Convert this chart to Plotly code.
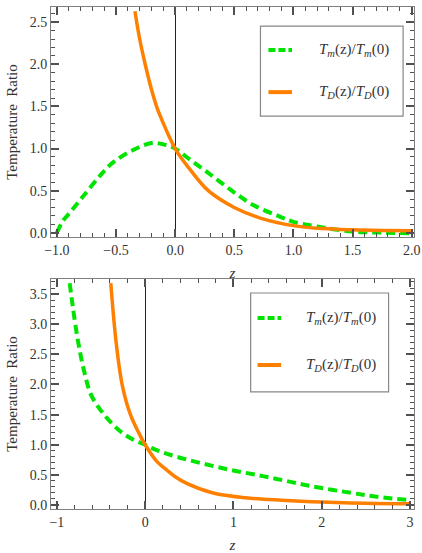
import plotly.graph_objects as go
from plotly.subplots import make_subplots

# ---- data ----
# top panel
tm_top_z = [-1.0, -0.95, -0.89, -0.78, -0.64, -0.53, -0.36, -0.2, -0.1, 0.0, 0.11, 0.28, 0.47, 0.66, 0.89, 1.0, 1.2, 1.5, 1.75, 2.0]
tm_top_v = [0.0, 0.14, 0.24, 0.43, 0.67, 0.83, 0.98, 1.065, 1.05, 1.0, 0.885, 0.71, 0.51, 0.33, 0.19, 0.13, 0.075, 0.015, 0.002, -0.005]
td_top_z = [-0.34, -0.3, -0.25, -0.2, -0.15, -0.1, -0.05, 0.0, 0.05, 0.11, 0.28, 0.5, 0.72, 1.0, 1.25, 1.5, 1.75, 2.0]
td_top_v = [2.63, 2.3, 1.98, 1.7, 1.47, 1.3, 1.14, 1.0, 0.89, 0.78, 0.5, 0.3, 0.175, 0.085, 0.05, 0.035, 0.028, 0.025]
# bottom panel
tm_bot_z = [-0.855, -0.82, -0.76, -0.69, -0.61, -0.46, -0.28, -0.13, 0.0, 0.13, 0.36, 0.88, 1.33, 1.66, 1.89, 2.34, 2.63, 3.0]
tm_bot_v = [3.68, 3.29, 2.71, 2.21, 1.82, 1.49, 1.22, 1.08, 1.0, 0.91, 0.80, 0.61, 0.48, 0.38, 0.31, 0.2, 0.135, 0.08]
td_bot_z = [-0.39, -0.33, -0.26, -0.165, -0.08, 0.0, 0.134, 0.246, 0.34, 0.47, 0.77, 1.14, 1.55, 2.0, 2.5, 3.0]
td_bot_v = [3.68, 2.71, 1.99, 1.49, 1.22, 1.0, 0.72, 0.58, 0.47, 0.36, 0.2, 0.12, 0.08, 0.05, 0.03, 0.02]

# tick values
top_x_major = [-1.0, -0.5, 0.0, 0.5, 1.0, 1.5, 2.0]
top_y_major = [0.0, 0.5, 1.0, 1.5, 2.0, 2.5]
bot_x_major = [-1, 0, 1, 2, 3]
bot_y_major = [0.0, 0.5, 1.0, 1.5, 2.0, 2.5, 3.0, 3.5]

label_m = "<i>T</i><sub><i>m</i></sub>(z)/<i>T</i><sub><i>m</i></sub>(0)"
label_d = "<i>T</i><sub><i>D</i></sub>(z)/<i>T</i><sub><i>D</i></sub>(0)"

GREEN = "#00E400"
ORANGE = "#FF8000"
FRAME = "#808080"
TICKC = "#505050"
SERIF = "Liberation Serif"

fig = make_subplots(rows=2, cols=1, vertical_spacing=0.0834)

line_m = dict(color=GREEN, width=4, dash="9px,5px")
line_d = dict(color=ORANGE, width=3.5)

fig.add_trace(go.Scatter(x=tm_top_z, y=tm_top_v, mode="lines", line=line_m, line_shape="spline",
                         name="Tm(z)/Tm(0)", showlegend=False), row=1, col=1)
fig.add_trace(go.Scatter(x=td_top_z, y=td_top_v, mode="lines", line=line_d, line_shape="spline",
                         name="TD(z)/TD(0)", showlegend=False), row=1, col=1)
fig.add_trace(go.Scatter(x=tm_bot_z, y=tm_bot_v, mode="lines", line=line_m, line_shape="spline",
                         name="Tm(z)/Tm(0)", showlegend=False), row=2, col=1)
fig.add_trace(go.Scatter(x=td_bot_z, y=td_bot_v, mode="lines", line=line_d, line_shape="spline",
                         name="TD(z)/TD(0)", showlegend=False), row=2, col=1)

tickfont = dict(family=SERIF, size=14, color="#333")
ztitle = dict(text="<i>z</i>", font=dict(family=SERIF, size=15, color="#333"), standoff=10)
ytitle = dict(text="Temperature  Ratio", font=dict(family=SERIF, size=15, color="#333"), standoff=8)

base = dict(showline=True, linecolor=FRAME, linewidth=1, mirror="allticks",
            ticks="inside", ticklen=8, tickwidth=1.5, tickcolor=TICKC,
            showgrid=False, tickfont=tickfont)
minor_x1 = dict(ticks="inside", ticklen=4, tickwidth=1, tickcolor=TICKC, dtick=0.1, tick0=0)
minor_x2 = dict(ticks="inside", ticklen=4, tickwidth=1, tickcolor=TICKC, dtick=0.2, tick0=0)
minor_y = dict(ticks="inside", ticklen=4, tickwidth=1, tickcolor=TICKC, dtick=0.1, tick0=0)

fig.update_xaxes(**base, ticklabeloverflow="allow", range=[-1.05, 2.02],
                 tickmode="array", tickvals=top_x_major, tickformat=".1f", title=ztitle,
                 minor=minor_x1,
                 zeroline=True, zerolinecolor="#222", zerolinewidth=1, row=1, col=1)
fig.update_yaxes(**base, range=[-0.05, 2.68], tickmode="array", tickvals=top_y_major,
                 tickformat=".1f", minor=minor_y,
                 title=ytitle, zeroline=False, domain=[0.5418, 1.0], row=1, col=1)
fig.update_xaxes(**base, ticklabeloverflow="allow", range=[-1.067, 3.045],
                 tickmode="array", tickvals=bot_x_major, title=ztitle, minor=minor_x2,
                 zeroline=True, zerolinecolor="#222", zerolinewidth=1, row=2, col=1)
fig.update_yaxes(**base, range=[-0.066, 3.75], tickmode="array", tickvals=bot_y_major,
                 tickformat=".1f", minor=minor_y,
                 title=ytitle, zeroline=False, domain=[0.0, 0.4582], row=2, col=1)

# manual legends (one per panel)
legend_specs = [
    ("x domain", "y domain", (0.577, 0.970, 0.526, 0.917), (0.599, 0.664), 0.813, 0.630, 0.732),
    ("x2 domain", "y2 domain", (0.550, 0.930, 0.509, 0.939), (0.569, 0.634), 0.830, 0.626, 0.696),
]
for xr, yr, box, samp, yg, yo, tx in legend_specs:
    fig.add_shape(type="rect", xref=xr, yref=yr, x0=box[0], x1=box[1], y0=box[2], y1=box[3],
                  line=dict(color="#888", width=1.2), fillcolor="white", layer="above")
    fig.add_shape(type="line", xref=xr, yref=yr, x0=samp[0], x1=samp[1], y0=yg, y1=yg,
                  line=dict(color=GREEN, width=4, dash="7px,3px"), layer="above")
    fig.add_shape(type="line", xref=xr, yref=yr, x0=samp[0], x1=samp[1], y0=yo, y1=yo,
                  line=dict(color=ORANGE, width=4), layer="above")
    fig.add_annotation(xref=xr, yref=yr, x=tx, y=yg, text=label_m, showarrow=False,
                       xanchor="left", yanchor="middle", font=dict(family=SERIF, size=15, color="#333"))
    fig.add_annotation(xref=xr, yref=yr, x=tx, y=yo, text=label_d, showarrow=False,
                       xanchor="left", yanchor="middle", font=dict(family=SERIF, size=15, color="#333"))

fig.update_layout(
    width=422, height=553,
    margin=dict(l=51, r=2, t=7, b=44),
    plot_bgcolor="white", paper_bgcolor="white",
    showlegend=False,
    font=dict(family=SERIF),
)

fig.write_html("out.html")
